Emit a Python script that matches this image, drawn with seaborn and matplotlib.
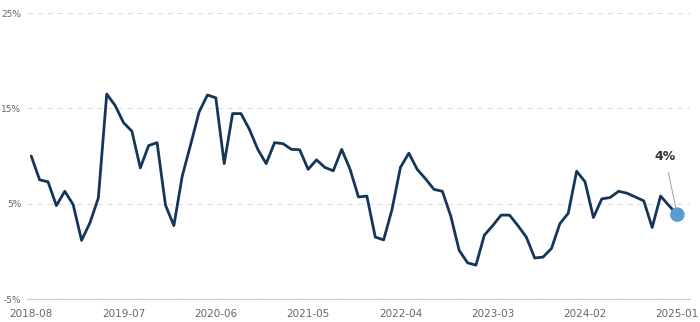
import matplotlib
matplotlib.use("Agg")
import matplotlib.pyplot as plt
import seaborn as sns
import pandas as pd
import numpy as np

months = pd.period_range("2018-08", "2025-01", freq="M").strftime("%Y-%m").tolist()
values = [10.0, 7.5, 7.3, 4.8, 6.3, 4.9, 1.15, 3.0, 5.6, 16.5,
          15.3, 13.5, 12.6, 8.75, 11.1, 11.4, 4.85, 2.7, 7.9, 11.2,
          14.6, 16.4, 16.1, 9.2, 14.45, 14.45, 12.8, 10.7, 9.2, 11.4,
          11.3, 10.7, 10.65, 8.6, 9.6, 8.8, 8.45, 10.7, 8.6, 5.7,
          5.8, 1.5, 1.2, 4.4, 8.8, 10.3, 8.6, 7.6, 6.5, 6.3,
          3.7, 0.1, -1.2, -1.45, 1.7, 2.7, 3.8, 3.8, 2.7, 1.5,
          -0.7, -0.6, 0.3, 2.9, 4.0, 8.4, 7.3, 3.55, 5.5, 5.65,
          6.3, 6.1, 5.7, 5.3, 2.5, 5.8, 4.8, 3.85]
yticks = [-5, 5, 15, 25]
ytick_labels = ["-5%", "5%", "15%", "25%"]
last_label = "4%"

df = pd.DataFrame({"idx": np.arange(len(months)), "month": months, "value": values})

sns.set_style("white")
plt.rcParams['font.family'] = ['DejaVu Sans']

fig = plt.figure(figsize=(7, 3.22), dpi=100)
ax = fig.add_axes([0.0386, 0.0714, 0.947, 0.8882])

sns.lineplot(data=df, x="idx", y="value", ax=ax, color="#14365a", linewidth=2.0)

last = df.iloc[-1]
sns.scatterplot(x=[last["idx"]], y=[last["value"]], ax=ax, color="#5b9bd5", s=110,
                edgecolor="none", zorder=5)
ax.annotate(last_label, xy=(last["idx"], last["value"]), xytext=(last["idx"] - 1.5, 10.0),
            ha="center", va="center", fontsize=9, fontweight="semibold", color="#333333",
            arrowprops=dict(arrowstyle="-", color="#aaaaaa", lw=0.8, shrinkA=5, shrinkB=2))

ax.set_ylim(-5, 25)
ax.set_xlim(-0.5, 78.5)
ax.set_yticks(yticks)
ax.set_yticklabels(ytick_labels, fontsize=6.5, color="#666666")
xt = list(range(0, len(months), 11))
ax.set_xticks(xt)
ax.set_xticklabels([months[i] for i in xt], fontsize=7.5, color="#666666")
ax.tick_params(axis="y", length=0, pad=4)
ax.tick_params(axis="x", length=4, color="#cccccc", width=0.8, pad=3, direction="out")
ax.yaxis.grid(True, linestyle=(0, (5, 4)), color="#dddddd", linewidth=0.8)
ax.xaxis.grid(False)
for s in ["left", "right", "top"]:
    ax.spines[s].set_visible(False)
ax.spines["bottom"].set_color("#cccccc")
ax.spines["bottom"].set_linewidth(0.8)
ax.set_xlabel("")
ax.set_ylabel("")

fig.savefig("out.png", dpi=100)
